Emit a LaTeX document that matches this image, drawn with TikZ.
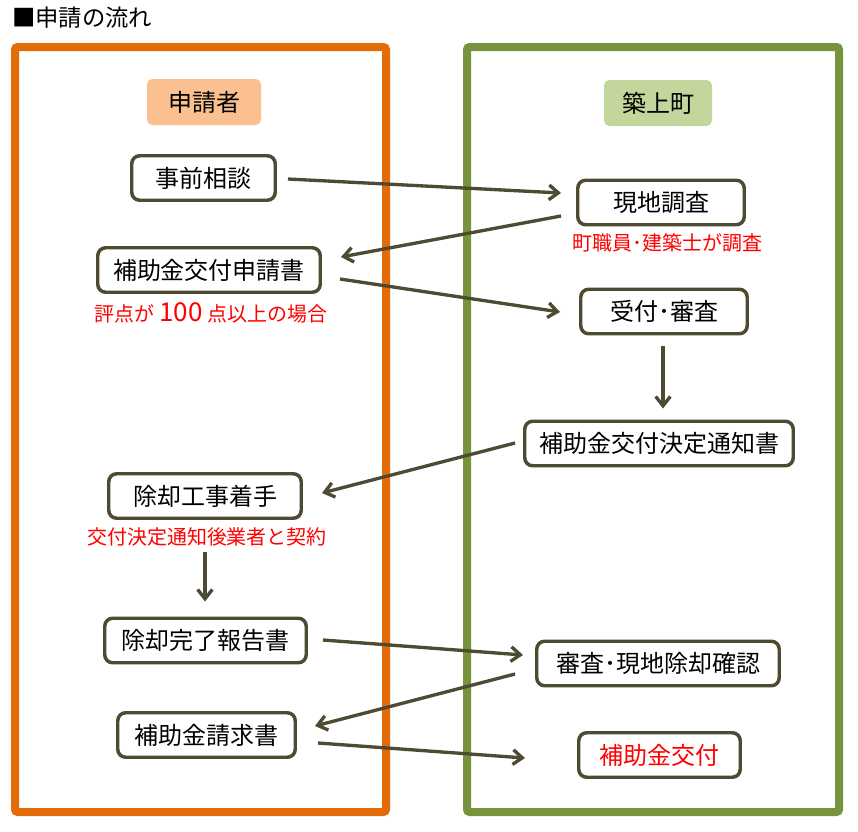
\documentclass[tikz,border=0pt]{standalone}
\usepackage{fontspec}
\newfontfamily\jp{Noto Sans CJK JP}
\usetikzlibrary{arrows.meta,calc}
\definecolor{boxc}{HTML}{4F4A32}
\definecolor{orangec}{HTML}{E36C09}
\definecolor{greenc}{HTML}{77933C}
\definecolor{hdrO}{HTML}{FAC090}
\definecolor{hdrG}{HTML}{C3D69B}
\definecolor{redc}{HTML}{FF0000}
\tikzset{
  bx/.style={draw=boxc, line width=2.6pt, rounded corners=6pt, fill=white,
    minimum height=44.5*0.75pt, inner sep=0pt, text=black,
    font=\jp\fontsize{18pt}{20pt}\selectfont},
  hdr/.style={rounded corners=4pt, minimum height=46*0.75pt, inner sep=0pt,
    text=black, font=\jp\fontsize{18pt}{20pt}\selectfont},
  note/.style={inner sep=0pt, text=redc, font=\jp\fontsize{15pt}{17pt}\selectfont},
  arr/.style={draw=boxc, line width=2.5pt, -{Straight Barb[length=7pt,width=11pt,line width=2.5pt]}}
}
\begin{document}
\begin{tikzpicture}[x=0.75pt,y=-0.75pt]
\useasboundingbox (0,0) rectangle (858,832);
\fill[white] (0,0) rectangle (858,832);

% title
\node[anchor=west, inner sep=0pt, font=\jp\fontsize{17.5pt}{19pt}\selectfont] (title) at (12,18) {■申請の流れ};

% frames
\draw[orangec, line width=6pt, rounded corners=2pt] (15,47) rectangle (386,812);
\draw[greenc, line width=6pt, rounded corners=2pt] (467,47) rectangle (839,812);

% headers
\node[hdr, fill=hdrO, minimum width=114*0.75pt] (h1) at (204,102) {申請者};
\node[hdr, fill=hdrG, minimum width=108*0.75pt] (h2) at (658,103) {築上町};

% boxes
\node[bx, minimum width=143.5*0.75pt] (jizen) at (203.5,178) {事前相談};
\node[bx, minimum width=222.5*0.75pt] (shinsei) at (209,270) {補助金交付申請書};
\node[bx, minimum width=166.5*0.75pt] (genchi) at (661,202.5) {現地調査};
\node[bx, minimum width=166.5*0.75pt] (uketsuke) at (664,311.5) {受付･審査};
\node[bx, minimum width=268.5*0.75pt] (kettei) at (659,443.5) {補助金交付決定通知書};
\node[bx, minimum width=192.5*0.75pt] (chakushu) at (205,496) {除却工事着手};
\node[bx, minimum width=201.5*0.75pt] (kanryo) at (205.5,640.5) {除却完了報告書};
\node[bx, minimum width=177.5*0.75pt] (seikyu) at (206.5,735) {補助金請求書};
\node[bx, minimum width=242.5*0.75pt] (kakunin) at (658,663.5) {審査･現地除却確認};
\node[bx, minimum width=161.5*0.75pt, text=redc] (kofu) at (659.5,755) {補助金交付};

% notes
\node[note] (n1) at (211,313) {評点が {\fontsize{19.5pt}{21pt}\selectfont 100} 点以上の場合};
\node[note] (n2) at (667,243) {町職員･建築士が調査};
\node[note] (n3) at (207,537) {交付決定通知後業者と契約};

% arrows
\draw[arr] ($(jizen.east)+(11,1)$) -- ($(genchi.west)+(-15,-9.5)$);
\draw[arr] ($(genchi.west)+(-15,13.5)$) -- ($(shinsei.east)+(19,-13)$);
\draw[arr] ($(shinsei.east)+(18,9)$) -- ($(uketsuke.west)+(-19,0.5)$);
\draw[arr] ($(uketsuke.south)+(-1,11)$) -- ($(kettei.north)+(4,-11)$);
\draw[arr] ($(kettei.west)+(-8,-0.5)$) -- ($(chakushu.east)+(19,-3)$);
\draw[arr] ($(chakushu.south)+(0,32)$) -- ($(kanryo.north)+(-0.5,-15)$);
\draw[arr] ($(kanryo.east)+(15,-0.5)$) -- ($(kakunin.west)+(-12,-8.5)$);
\draw[arr] ($(kakunin.west)+(-20,10.5)$) -- ($(seikyu.east)+(18,-9)$);
\draw[arr] ($(seikyu.east)+(21,8)$) -- ($(kofu.west)+(-52,3)$);
\end{tikzpicture}
\end{document}
